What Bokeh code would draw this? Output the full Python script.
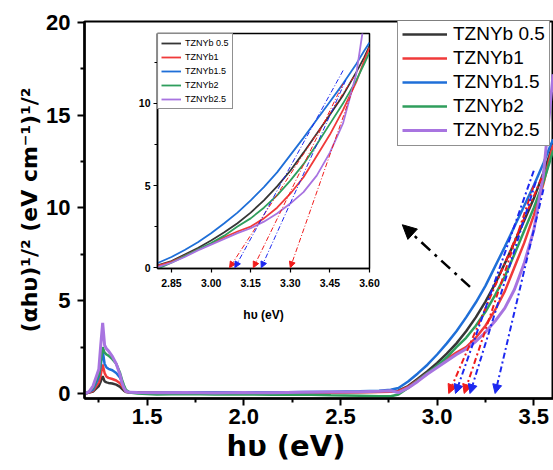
from bokeh.plotting import figure
from bokeh.models import (Range1d, FixedTicker, PrintfTickFormatter, Legend, LegendItem,
                          Arrow, NormalHead, Title)
from bokeh.embed import file_html
from bokeh.resources import INLINE

# ---------------- data ----------------
energy = [1.18, 1.20, 1.22, 1.24, 1.25, 1.26, 1.27, 1.28, 1.29, 1.30,
          1.32, 1.34, 1.36, 1.37, 1.38, 1.39, 1.41, 1.45,
          1.55, 1.70, 1.85, 2.00, 2.15, 2.30, 2.45, 2.60, 2.70, 2.76,
          2.80, 2.85, 2.90, 2.95, 3.00, 3.05, 3.10, 3.15, 3.20, 3.25,
          3.30, 3.35, 3.40, 3.45, 3.50, 3.55, 3.58, 3.60]

tznyb05 = [0.0, 0.05, 0.1, 0.3, 0.4, 0.65, 0.93, 0.65, 0.6, 0.57,
           0.54, 0.48, 0.36, 0.25, 0.15, 0.08, 0.05, 0.04,
           0.03, 0.05, 0.02, 0.04, 0.03, 0.05, 0.06, 0.08, 0.1, 0.12,
           0.15, 0.4, 0.8, 1.2, 1.65, 2.15, 2.7, 3.35, 4.1, 4.95,
           5.9, 7.0, 8.15, 9.3, 10.5, 11.9, 12.8, 13.5]
tznyb1 = [0.0, 0.05, 0.15, 0.45, 0.6, 1.0, 1.56, 1.1, 0.9, 0.84,
          0.78, 0.7, 0.55, 0.4, 0.25, 0.1, 0.05, 0.06,
          0.05, 0.03, 0.04, 0.02, 0.04, 0.03, 0.05, 0.06, 0.08, 0.1,
          0.12, 0.35, 0.72, 1.1, 1.45, 1.85, 2.2, 2.5, 3.0, 3.65,
          4.5, 5.5, 6.8, 8.1, 9.6, 11.3, 12.6, 13.4]
tznyb15 = [0.0, 0.08, 0.2, 0.65, 0.9, 1.5, 2.3, 1.6, 1.4, 1.33,
           1.25, 1.1, 0.85, 0.6, 0.35, 0.15, 0.06, 0.05,
           0.04, 0.06, 0.05, 0.07, 0.05, 0.08, 0.1, 0.12, 0.15, 0.2,
           0.3, 0.65, 1.08, 1.55, 2.1, 2.7, 3.35, 4.1, 4.9, 5.8,
           6.85, 7.9, 9.0, 10.1, 11.2, 12.4, 13.2, 13.7]
tznyb2 = [0.0, 0.1, 0.3, 0.8, 1.0, 1.7, 2.5, 2.2, 2.1, 2.04,
          1.85, 1.6, 1.1, 0.75, 0.45, 0.2, 0.05, 0.0,
          -0.05, -0.03, -0.06, -0.04, -0.07, -0.05, -0.1, -0.12, -0.15, -0.15,
          -0.05, 0.3, 0.7, 1.1, 1.5, 1.95, 2.5, 3.0, 3.65, 4.4,
          5.3, 6.3, 7.5, 8.75, 10.0, 11.4, 12.4, 13.1]
tznyb25 = [0.0, 0.1, 0.4, 1.0, 1.3, 2.6, 3.8, 2.6, 2.4, 2.3,
           2.0, 1.6, 1.0, 0.57, 0.3, 0.12, 0.06, 0.05,
           0.04, 0.05, 0.03, 0.05, 0.04, 0.06, 0.08, 0.1, 0.12, 0.15,
           0.05, 0.3, 0.65, 1.05, 1.4, 1.75, 2.1, 2.4, 2.8, 3.3,
           3.9, 4.6, 5.6, 7.0, 8.8, 11.8, 15.0, 17.2]

labels = ["TZNYb 0.5", "TZNYb1", "TZNYb1.5", "TZNYb2", "TZNYb2.5"]
series = [tznyb05, tznyb1, tznyb15, tznyb2, tznyb25]
colors = ["#363636", "#f03a3a", "#1f6fd8", "#2f9e5c", "#a874e0"]

# band-gap extrapolation lines: x-intercept and upper point (main plot / inset)
main_tan_x0 = [3.06, 3.095, 3.14, 3.17, 3.30]
main_tan_x1 = [3.54, 3.50, 3.50, 3.51, 3.55]
main_tan_y1 = [11.6, 12.0, 11.2, 11.4, 11.0]
main_tan_colors = ["#f01c1c", "#1c28f0", "#f01c1c", "#1c28f0", "#1c28f0"]

inset_tan_x0 = [3.07, 3.09, 3.16, 3.19, 3.30]
inset_tan_x1 = [3.54, 3.50, 3.50, 3.51, 3.54]
inset_tan_y1 = [11.6, 12.0, 11.2, 11.4, 11.0]
inset_tan_colors = ["#f01c1c", "#1c28f0", "#f01c1c", "#1c28f0", "#f01c1c"]

# pointer arrow towards the inset
pointer_start = (3.17, 5.74)
pointer_end = (2.82, 9.09)

x_major = [1.5, 2.0, 2.5, 3.0, 3.5]
x_minor = [1.25, 1.75, 2.25, 2.75, 3.25]
y_major = [0, 5, 10, 15, 20]
y_minor = [2.5, 7.5, 12.5, 17.5]
ix_major = [2.85, 3.00, 3.15, 3.30, 3.45, 3.60]
iy_major = [0, 5, 10]
iy_minor = [2.5, 7.5, 12.5]

x_title = "hυ (eV)"
y_title = "(αhυ)¹/² (eV cm⁻¹)¹/²"

FONT = "Liberation Sans"
TITLE_FONT = "DejaVu Sans"

# ---------------- main figure ----------------
p = figure(width=553, height=470, output_backend="svg", toolbar_location=None,
           x_range=Range1d(1.176, 3.602), y_range=Range1d(-0.27, 20.04),
           min_border_left=84, min_border_right=0, min_border_top=21, min_border_bottom=72)
p.xgrid.visible = False
p.ygrid.visible = False
p.outline_line_color = "black"
p.outline_line_width = 2
p.background_fill_color = "white"
p.border_fill_color = "white"

p.xaxis.ticker = FixedTicker(ticks=x_major, minor_ticks=x_minor)
p.xaxis.formatter = PrintfTickFormatter(format="%.1f")
p.yaxis.ticker = FixedTicker(ticks=y_major, minor_ticks=y_minor)
p.yaxis.axis_label = y_title
for ax in (p.xaxis[0], p.yaxis[0]):
    ax.axis_line_width = 2.5
    ax.major_tick_line_width = 2
    ax.minor_tick_line_width = 2
    ax.major_tick_out = 7
    ax.major_tick_in = 0
    ax.minor_tick_out = 4
    ax.minor_tick_in = 0
    ax.major_label_text_font = FONT
    ax.major_label_text_font_style = "bold"
    ax.major_label_text_font_size = "22px"
    ax.major_label_text_color = "black"
    ax.axis_label_text_font = TITLE_FONT
    ax.axis_label_text_font_style = "bold"
    ax.axis_label_text_color = "black"
p.xaxis.major_label_standoff = 3
p.yaxis.major_label_standoff = 7
p.yaxis.axis_label_text_font_size = "22px"
p.yaxis.axis_label_standoff = 1

# x-axis title as a left-aligned title below the axis (shifted like the original)
p.add_layout(Title(text=x_title, align="left", offset=142, standoff=0,
                   text_font=TITLE_FONT, text_font_style="bold",
                   text_font_size="29px", text_color="black"), "below")

renderers = []
for ys, c in zip(series, colors):
    lw = 3 if c == colors[-1] else 2.5
    r = p.line(energy, ys, line_color=c, line_width=lw)
    renderers.append(r)

for i in range(len(main_tan_x0)):
    c = main_tan_colors[i]
    p.add_layout(Arrow(x_start=main_tan_x1[i], y_start=main_tan_y1[i],
                       x_end=main_tan_x0[i], y_end=0,
                       line_color=c, line_width=2, line_dash="6 3 2 3",
                       end=NormalHead(size=9, fill_color=c, line_color=c, line_width=1)))

p.add_layout(Arrow(x_start=pointer_start[0], y_start=pointer_start[1],
                   x_end=pointer_end[0], y_end=pointer_end[1],
                   line_color="black", line_width=2.5, line_dash="12 6 3 6",
                   end=NormalHead(size=14, fill_color="black", line_color="black", line_width=1)))

legend = Legend(items=[LegendItem(label=l, renderers=[r]) for l, r in zip(labels, renderers)],
                location=(313, 252))
legend.label_text_font = FONT
legend.label_text_font_size = "19px"
legend.label_text_color = "black"
legend.glyph_width = 45
legend.glyph_height = 20
legend.label_height = 20
legend.spacing = 2
legend.padding = 4
legend.margin = 0
legend.label_standoff = 6
legend.border_line_color = "#222222"
legend.border_line_width = 1
legend.background_fill_alpha = 1
p.add_layout(legend)

# ---------------- inset figure ----------------
q = figure(frame_width=212, frame_height=235, output_backend="svg", toolbar_location=None,
           x_range=Range1d(2.797, 3.60), y_range=Range1d(-0.05, 14.25),
           min_border_left=22, min_border_right=12, min_border_top=3, min_border_bottom=60)
q.xgrid.visible = False
q.ygrid.visible = False
q.outline_line_color = "black"
q.outline_line_width = 1.5
q.border_fill_color = None
q.background_fill_color = "white"
q.xaxis.ticker = FixedTicker(ticks=ix_major)
q.xaxis.formatter = PrintfTickFormatter(format="%.2f")
q.yaxis.ticker = FixedTicker(ticks=iy_major, minor_ticks=iy_minor)
q.xaxis.axis_label = x_title
for ax in (q.xaxis[0], q.yaxis[0]):
    ax.axis_line_width = 1.5
    ax.major_tick_line_width = 1.2
    ax.minor_tick_line_width = 1.2
    ax.major_tick_out = 4
    ax.major_tick_in = 0
    ax.minor_tick_out = 3
    ax.minor_tick_in = 0
    ax.major_label_text_font = FONT
    ax.major_label_text_font_style = "bold"
    ax.major_label_text_font_size = "10.5px"
    ax.major_label_text_color = "black"
    ax.axis_label_text_font = FONT
    ax.axis_label_text_font_style = "bold"
    ax.axis_label_text_font_size = "12px"
    ax.axis_label_text_color = "black"
q.xaxis.major_label_standoff = 6
q.yaxis.major_label_standoff = 3
q.xaxis.axis_label_standoff = 18

irs = []
for ys, c in zip(series, colors):
    irs.append(q.line(energy, ys, line_color=c, line_width=1.8))

for i in range(len(inset_tan_x0)):
    c = inset_tan_colors[i]
    q.add_layout(Arrow(x_start=inset_tan_x1[i], y_start=inset_tan_y1[i],
                       x_end=inset_tan_x0[i], y_end=0,
                       line_color=c, line_width=1, line_dash="5 2 1 2",
                       end=NormalHead(size=6, fill_color=c, line_color=c, line_width=1)))

ileg = Legend(items=[LegendItem(label=l, renderers=[r]) for l, r in zip(labels, irs)],
              location="top_left")
ileg.label_text_font = FONT
ileg.label_text_font_size = "9px"
ileg.label_text_color = "black"
ileg.glyph_width = 20
ileg.glyph_height = 12
ileg.label_height = 12
ileg.spacing = 2
ileg.padding = 3
ileg.margin = 0
ileg.label_standoff = 4
ileg.border_line_color = "#222222"
ileg.border_line_width = 1
q.add_layout(ileg)

q.styles = {"position": "absolute", "left": "135px", "top": "30px"}

open("out.html", "w").write(file_html([p, q], INLINE))
